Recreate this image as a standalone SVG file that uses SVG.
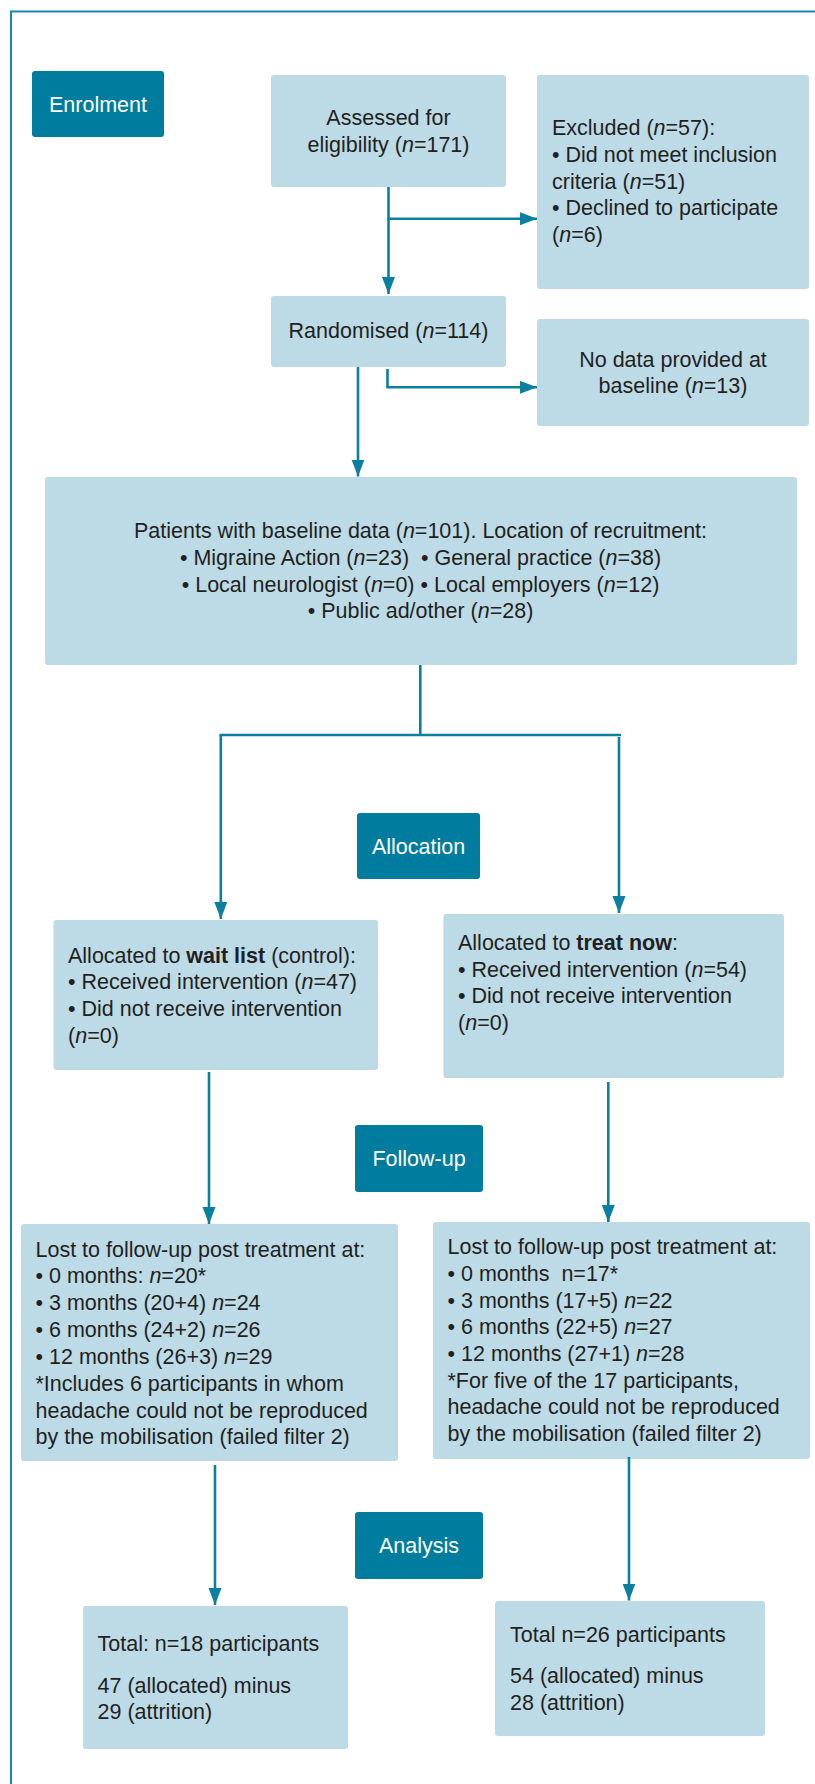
<svg xmlns="http://www.w3.org/2000/svg" width="815" height="1784" viewBox="0 0 815 1784">
<defs>
<style>
.box{fill:#bcdbe7;}
.stage{fill:#007c9e;}
.t{font-family:"Liberation Sans",Arial,sans-serif;font-size:21.5px;fill:#231f20;}
.w{font-family:"Liberation Sans",Arial,sans-serif;font-size:21.5px;fill:#ffffff;}
.c{text-anchor:middle;}
.i{font-style:italic;}
.b{font-weight:bold;}
.ln{fill:none;stroke:#0a7fa0;stroke-width:2.6;}
</style>
<marker id="ah" markerUnits="userSpaceOnUse" markerWidth="18" markerHeight="14" refX="17" refY="6.5" orient="auto">
<path d="M0,0 L17,6.5 L0,13 z" fill="#0a7fa0"/>
</marker>
</defs>
<rect width="815" height="1784" fill="#ffffff"/>
<path d="M11,1784 V11.5 H815" fill="none" stroke="#1a87a6" stroke-width="2"/>

<g id="enrolment"><rect class="stage" x="32" y="71" width="132" height="66" rx="3"/><text class="w c" x="98" y="112">Enrolment</text></g>
<g id="allocation"><rect class="stage" x="357" y="813" width="123" height="66" rx="3"/><text class="w c" x="418.5" y="853.5">Allocation</text></g>
<g id="followup"><rect class="stage" x="355" y="1125" width="128" height="67" rx="3"/><text class="w c" x="419" y="1166">Follow-up</text></g>
<g id="analysis"><rect class="stage" x="355" y="1512" width="128" height="67" rx="3"/><text class="w c" x="419" y="1552.5">Analysis</text></g>

<g id="assessed"><rect class="box" x="271" y="75" width="235" height="112" rx="3"/>
<text class="t c" x="388.5" y="125">Assessed for</text>
<text class="t c" x="388.5" y="151.5">eligibility (<tspan class="i">n</tspan>=171)</text></g>

<g id="excluded"><rect class="box" x="537" y="75" width="272" height="214" rx="3"/>
<text class="t" x="552" y="135">Excluded (<tspan class="i">n</tspan>=57):</text>
<text class="t" x="552" y="162">• Did not meet inclusion</text>
<text class="t" x="552" y="188.5">criteria (<tspan class="i">n</tspan>=51)</text>
<text class="t" x="552" y="215">• Declined to participate</text>
<text class="t" x="552" y="241.5">(<tspan class="i">n</tspan>=6)</text></g>

<g id="randomised"><rect class="box" x="271" y="296" width="235" height="71" rx="3"/>
<text class="t c" x="388.5" y="338">Randomised (<tspan class="i">n</tspan>=114)</text></g>

<g id="nodata"><rect class="box" x="537" y="319" width="272" height="107" rx="3"/>
<text class="t c" x="673" y="366.5">No data provided at</text>
<text class="t c" x="673" y="393">baseline (<tspan class="i">n</tspan>=13)</text></g>

<g id="patients"><rect class="box" x="45" y="477" width="752" height="188" rx="3"/>
<text class="t c" x="420.5" y="538">Patients with baseline data (<tspan class="i">n</tspan>=101). Location of recruitment:</text>
<text class="t c" x="420.5" y="565">• Migraine Action (<tspan class="i">n</tspan>=23) &#160;• General practice (<tspan class="i">n</tspan>=38)</text>
<text class="t c" x="420.5" y="592">• Local neurologist (<tspan class="i">n</tspan>=0) • Local employers (<tspan class="i">n</tspan>=12)</text>
<text class="t c" x="420.5" y="618">• Public ad/other (<tspan class="i">n</tspan>=28)</text></g>

<g id="waitlist"><rect class="box" x="53.5" y="920" width="324.5" height="150" rx="3"/>
<text class="t" x="68" y="962.5">Allocated to <tspan class="b">wait list</tspan> (control):</text>
<text class="t" x="68" y="989">• Received intervention (<tspan class="i">n</tspan>=47)</text>
<text class="t" x="68" y="1016">• Did not receive intervention</text>
<text class="t" x="68" y="1042.5">(<tspan class="i">n</tspan>=0)</text></g>

<g id="treatnow"><rect class="box" x="443.5" y="914" width="340.5" height="164" rx="3"/>
<text class="t" x="458" y="950">Allocated to <tspan class="b">treat now</tspan>:</text>
<text class="t" x="458" y="976.5">• Received intervention (<tspan class="i">n</tspan>=54)</text>
<text class="t" x="458" y="1003">• Did not receive intervention</text>
<text class="t" x="458" y="1029.5">(<tspan class="i">n</tspan>=0)</text></g>

<g id="lostleft"><rect class="box" x="21" y="1224" width="377" height="237" rx="3"/>
<text class="t" x="35.5" y="1256.5">Lost to follow-up post treatment at:</text>
<text class="t" x="35.5" y="1283">• 0 months: <tspan class="i">n</tspan>=20*</text>
<text class="t" x="35.5" y="1310">• 3 months (20+4) <tspan class="i">n</tspan>=24</text>
<text class="t" x="35.5" y="1336.5">• 6 months (24+2) <tspan class="i">n</tspan>=26</text>
<text class="t" x="35.5" y="1363.5">• 12 months (26+3) <tspan class="i">n</tspan>=29</text>
<text class="t" x="35.5" y="1390.5">*Includes 6 participants in whom</text>
<text class="t" x="35.5" y="1417.5">headache could not be reproduced</text>
<text class="t" x="35.5" y="1444">by the mobilisation (failed filter 2)</text></g>

<g id="lostright"><rect class="box" x="433" y="1222" width="377" height="237" rx="3"/>
<text class="t" x="447.5" y="1254">Lost to follow-up post treatment at:</text>
<text class="t" x="447.5" y="1281">• 0 months &#160;n=17*</text>
<text class="t" x="447.5" y="1307.5">• 3 months (17+5) <tspan class="i">n</tspan>=22</text>
<text class="t" x="447.5" y="1334">• 6 months (22+5) <tspan class="i">n</tspan>=27</text>
<text class="t" x="447.5" y="1361">• 12 months (27+1) <tspan class="i">n</tspan>=28</text>
<text class="t" x="447.5" y="1387.5">*For five of the 17 participants,</text>
<text class="t" x="447.5" y="1414">headache could not be reproduced</text>
<text class="t" x="447.5" y="1441">by the mobilisation (failed filter 2)</text></g>

<g id="totalleft"><rect class="box" x="83" y="1606" width="265" height="143" rx="3"/>
<text class="t" x="97.5" y="1651">Total: n=18 participants</text>
<text class="t" x="97.5" y="1692.5">47 (allocated) minus</text>
<text class="t" x="97.5" y="1719">29 (attrition)</text></g>

<g id="totalright"><rect class="box" x="495" y="1601" width="270" height="135" rx="3"/>
<text class="t" x="510" y="1642">Total n=26 participants</text>
<text class="t" x="510" y="1683">54 (allocated) minus</text>
<text class="t" x="510" y="1710">28 (attrition)</text></g>

<g id="connectors">
<path class="ln" d="M388.5,187 V294" marker-end="url(#ah)"/>
<path class="ln" d="M388.5,218.7 H537" marker-end="url(#ah)"/>
<path class="ln" d="M387.5,369 V387.3 H537" marker-end="url(#ah)"/>
<path class="ln" d="M358,367 V476.5" marker-end="url(#ah)"/>
<path class="ln" d="M420.3,665 V735"/>
<path class="ln" d="M219.5,735 H621"/>
<path class="ln" d="M220.8,735 V919" marker-end="url(#ah)"/>
<path class="ln" d="M619,737 V913" marker-end="url(#ah)"/>
<path class="ln" d="M209,1072 V1224" marker-end="url(#ah)"/>
<path class="ln" d="M608.3,1082 V1222" marker-end="url(#ah)"/>
<path class="ln" d="M215,1465 V1605" marker-end="url(#ah)"/>
<path class="ln" d="M629,1457 V1600.5" marker-end="url(#ah)"/>
</g>
</svg>
